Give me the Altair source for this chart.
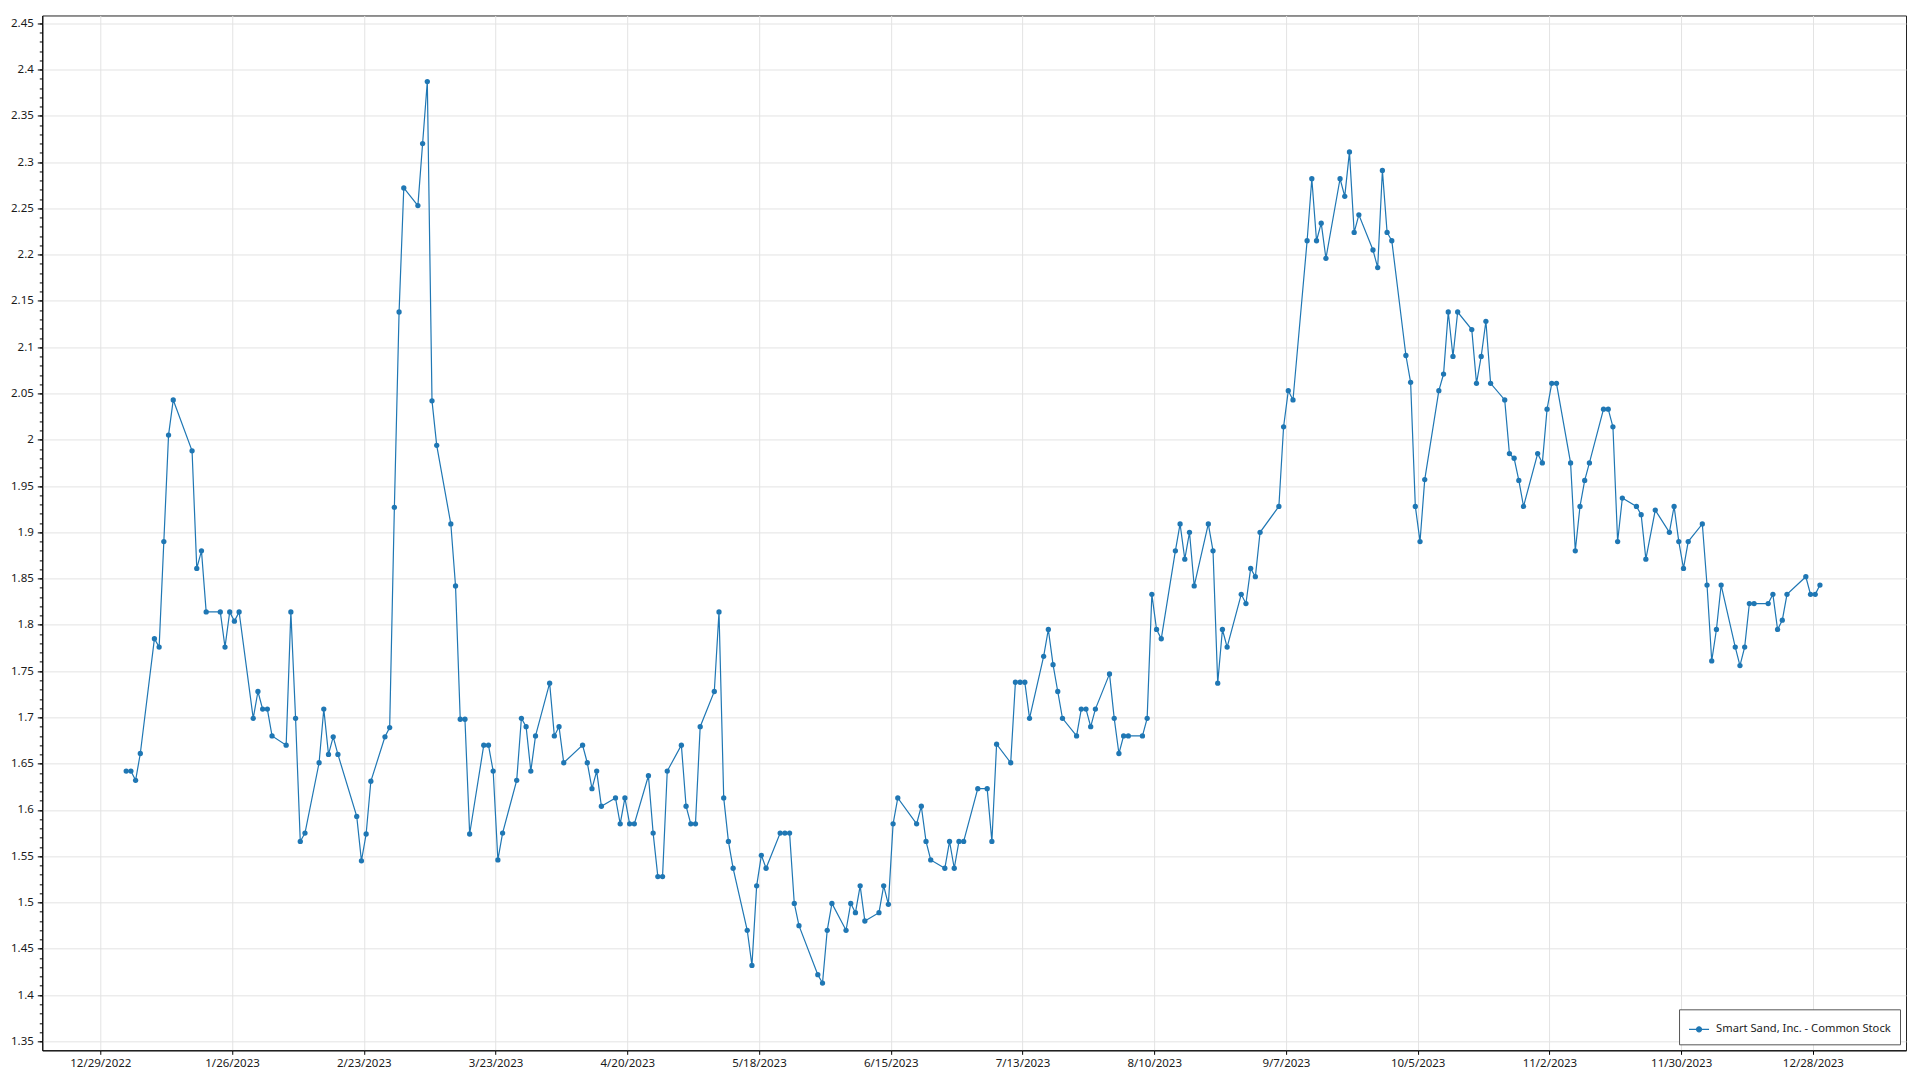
import altair as alt
import pandas as pd

SERIES_NAME = "Smart Sand, Inc. - Common Stock"
BLUE = "#1f77b4"

# trading days of 2023 per month and the closing prices
DAYS = {
    1: [3, 4, 5, 6, 9, 10, 11, 12, 13, 17, 18, 19, 20, 23, 24, 25, 26, 27, 30, 31],
    2: [1, 2, 3, 6, 7, 8, 9, 10, 13, 14, 15, 16, 17, 21, 22, 23, 24, 27, 28],
    3: [1, 2, 3, 6, 7, 8, 9, 10, 13, 14, 15, 16, 17, 20, 21, 22, 23, 24, 27, 28, 29, 30, 31],
    4: [3, 4, 5, 6, 10, 11, 12, 13, 14, 17, 18, 19, 20, 21, 24, 25, 26, 27, 28],
    5: [1, 2, 3, 4, 5, 8, 9, 10, 11, 12, 15, 16, 17, 18, 19, 22, 23, 24, 25, 26, 30, 31],
    6: [1, 2, 5, 6, 7, 8, 9, 12, 13, 14, 15, 16, 20, 21, 22, 23, 26, 27, 28, 29, 30],
    7: [3, 5, 6, 7, 10, 11, 12, 13, 14, 17, 18, 19, 20, 21, 24, 25, 26, 27, 28, 31],
    8: [1, 2, 3, 4, 7, 8, 9, 10, 11, 14, 15, 16, 17, 18, 21, 22, 23, 24, 25, 28, 29, 30, 31],
    9: [1, 5, 6, 7, 8, 11, 12, 13, 14, 15, 18, 19, 20, 21, 22, 25, 26, 27, 28, 29],
    10: [2, 3, 4, 5, 6, 9, 10, 11, 12, 13, 16, 17, 18, 19, 20, 23, 24, 25, 26, 27, 30, 31],
    11: [1, 2, 3, 6, 7, 8, 9, 10, 13, 14, 15, 16, 17, 20, 21, 22, 24, 27, 28, 29, 30],
    12: [1, 4, 5, 6, 7, 8, 11, 12, 13, 14, 15, 18, 19, 20, 21, 22, 26, 27, 28, 29],
}

PRICES = {
    1: [1.642, 1.642, 1.632, 1.661, 1.785, 1.776, 1.890, 2.005, 2.043, 1.988, 1.861, 1.880, 1.814, 1.814,
        1.776, 1.814, 1.804, 1.814, 1.699, 1.728],
    2: [1.709, 1.709, 1.680, 1.670, 1.814, 1.699, 1.566, 1.575, 1.651, 1.709, 1.660, 1.679, 1.660, 1.593,
        1.545, 1.574, 1.631, 1.679, 1.689],
    3: [1.927, 2.138, 2.272, 2.253, 2.320, 2.387, 2.042, 1.994, 1.909, 1.842, 1.698, 1.698, 1.574, 1.670,
        1.670, 1.642, 1.546, 1.575, 1.632, 1.699, 1.690, 1.642, 1.680],
    4: [1.737, 1.680, 1.690, 1.651, 1.670, 1.651, 1.623, 1.642, 1.604, 1.613, 1.585, 1.613, 1.585, 1.585,
        1.637, 1.575, 1.528, 1.528, 1.642],
    5: [1.670, 1.604, 1.585, 1.585, 1.690, 1.728, 1.814, 1.613, 1.566, 1.537, 1.470, 1.432, 1.518, 1.551,
        1.537, 1.575, 1.575, 1.575, 1.499, 1.475, 1.422, 1.413],
    6: [1.470, 1.499, 1.470, 1.499, 1.489, 1.518, 1.480, 1.489, 1.518, 1.498, 1.585, 1.613, 1.585, 1.604,
        1.566, 1.546, 1.537, 1.566, 1.537, 1.566, 1.566],
    7: [1.623, 1.623, 1.566, 1.671, 1.651, 1.738, 1.738, 1.738, 1.699, 1.766, 1.795, 1.757, 1.728, 1.699,
        1.680, 1.709, 1.709, 1.690, 1.709, 1.747],
    8: [1.699, 1.661, 1.680, 1.680, 1.680, 1.699, 1.833, 1.795, 1.785, 1.880, 1.909, 1.871, 1.900, 1.842,
        1.909, 1.880, 1.737, 1.795, 1.776, 1.833, 1.823, 1.861, 1.852],
    9: [1.900, 1.928, 2.014, 2.053, 2.043, 2.215, 2.282, 2.215, 2.234, 2.196, 2.282, 2.263, 2.311, 2.224,
        2.243, 2.205, 2.186, 2.291, 2.224, 2.215],
    10: [2.091, 2.062, 1.928, 1.890, 1.957, 2.053, 2.071, 2.138, 2.090, 2.138, 2.119, 2.061, 2.090, 2.128,
         2.061, 2.043, 1.985, 1.980, 1.956, 1.928, 1.985, 1.975],
    11: [2.033, 2.061, 2.061, 1.975, 1.880, 1.928, 1.956, 1.975, 2.033, 2.033, 2.014, 1.890, 1.937, 1.928,
         1.919, 1.871, 1.924, 1.900, 1.928, 1.890, 1.861],
    12: [1.890, 1.909, 1.843, 1.761, 1.795, 1.843, 1.776, 1.756, 1.776, 1.823, 1.823, 1.823, 1.833, 1.795,
         1.805, 1.833, 1.852, 1.833, 1.833, 1.843],
}

# x-axis tick labels (every 28 days)
X_TICKS = [(2022, 12, 29), (2023, 1, 26), (2023, 2, 23), (2023, 3, 23), (2023, 4, 20), (2023, 5, 18),
           (2023, 6, 15), (2023, 7, 13), (2023, 8, 10), (2023, 9, 7), (2023, 10, 5), (2023, 11, 2),
           (2023, 11, 30), (2023, 12, 28)]
Y_TICKS = [1.35, 1.4, 1.45, 1.5, 1.55, 1.6, 1.65, 1.7, 1.75, 1.8, 1.85, 1.9, 1.95, 2.0, 2.05, 2.1,
           2.15, 2.2, 2.25, 2.3, 2.35, 2.4, 2.45]
Y_MINOR = [round(1.35 + 0.01 * i, 2) for i in range(111)]

rows = []
for m in range(1, 13):
    for d, p in zip(DAYS[m], PRICES[m]):
        rows.append({"date": f"2023-{m:02d}-{d:02d}T12:00:00", "price": p, "series": SERIES_NAME})
df = pd.DataFrame(rows)

FONT = "Noto Sans"
TXT = "#1a1a1a"

x_enc = alt.X(
    "date:T",
    scale=alt.Scale(domain=[alt.DateTime(year=2022, month=12, date=16, hours=16),
                            alt.DateTime(year=2024, month=1, date=16, hours=19)]),
    axis=alt.Axis(
        values=[alt.DateTime(year=y, month=m, date=d) for (y, m, d) in X_TICKS],
        format="%-m/%-d/%Y", title=None, labelFont=FONT, labelFontSize=11.5, labelColor=TXT,
        grid=True, gridColor="#e3e3e3", gridWidth=1, domainColor="#000", domainWidth=1,
        tickColor="#000", tickSize=4, labelPadding=3, labelFlush=False, labelOverlap=False,
    ),
)

y_scale = alt.Scale(domain=[1.3403, 2.4584], nice=False, zero=False)

line = alt.Chart(df).mark_line(
    strokeWidth=1.2,
    point=alt.OverlayMarkDef(filled=True, size=28, opacity=1),
).encode(
    x=x_enc,
    y=alt.Y("price:Q", scale=y_scale,
            axis=alt.Axis(values=Y_TICKS, format=".3~g", title=None, labelFont=FONT, labelFontSize=11.5,
                          labelColor=TXT, grid=True, gridColor="#e3e3e3", gridWidth=1, domainColor="#000",
                          domainWidth=1, tickColor="#000", tickSize=5, labelPadding=4, orient="left")),
    color=alt.Color("series:N", scale=alt.Scale(range=[BLUE]),
                    legend=alt.Legend(
                        orient="bottom-right", title=None, offset=6, fillColor="white",
                        strokeColor="#555555", padding=9, cornerRadius=0,
                        labelFont=FONT, labelFontSize=11.2, labelColor=TXT, labelOffset=6, labelLimit=400,
                        symbolType="M-1,0L1,0M-0.25,0A0.25,0.25,0,1,0,0.25,0A0.25,0.25,0,1,0,-0.25,0Z",
                        symbolSize=400, symbolStrokeWidth=1.2,
                        symbolFillColor=BLUE, symbolStrokeColor=BLUE,
                    )),
)

minor = alt.Chart(df).mark_point(opacity=0).encode(
    x=alt.X("date:T"),
    y=alt.Y("price:Q", scale=y_scale,
            axis=alt.Axis(values=Y_MINOR, labels=False, grid=False, domain=False, ticks=True,
                          tickSize=3, tickColor="#000", title=None, orient="left")),
)

chart = alt.layer(line, minor).resolve_axis(y="independent").properties(
    width=1864, height=1035,
    autosize=alt.AutoSizeParams(type="none"),
    padding={"left": 34.3, "top": 7.4, "right": 6, "bottom": 20},
).configure_view(stroke="#222222", strokeWidth=1)

chart.save("out.html", embed_options={"renderer": "svg", "actions": False})
